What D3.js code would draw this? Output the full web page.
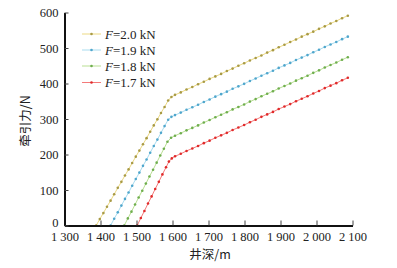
<!DOCTYPE html>
<html><head><meta charset="utf-8">
<script src="https://cdn.jsdelivr.net/npm/d3@7"></script>
<style>body{margin:0;background:#fff}svg{display:block}</style>
</head><body>
<svg id="c" width="397" height="268"></svg>
<script>
// X ticks and Y ticks
const xTicks = [1300,1400,1500,1600,1700,1800,1900,2000,2100];
const xTickLabels = ["1 300","1 400","1 500","1 600","1 700","1 800","1 900","2 000","2 100"];
const yTicks = [0,100,200,300,400,500,600];
const seriesNames = ["2.0","1.9","1.8","1.7"];

// shared depths after the knee
const postDepths = [1607,1623,1639,1655,1671,1687,1703,1719,1735,1751,1767,1783,1799,1815,1831,1847,1863,1879,1895,1911,1927,1943,1959,1975,1991,2007,2023,2039,2055,2071,2087];

// F = 2.0 kN
const depth20 = [1388,1398,1408,1418,1428,1438,1448,1458,1468,1478,1488,1498,1508,1518,1528,1538,1548,1558,1568,1578,1588,1597];
const force20 = [0,18,35,53,70,88,106,123,141,158,176,194,211,229,246,264,282,299,317,334,352,362];
const post20  = [368,375,383,390,398,405,413,420,427,435,442,450,457,465,472,479,487,494,502,509,517,524,532,539,546,554,561,569,576,584,591];
// F = 1.9 kN
const depth19 = [1428,1438,1448,1458,1468,1478,1488,1498,1508,1518,1528,1538,1548,1558,1568,1578,1588,1597];
const force19 = [0,19,37,56,75,93,112,131,149,168,186,205,224,242,261,280,298,306];
const post19  = [311,318,326,333,340,348,355,363,370,377,385,392,399,407,414,422,429,436,444,451,458,466,473,480,488,495,503,510,517,525,532];
// F = 1.8 kN
const depth18 = [1466,1476,1486,1496,1506,1516,1526,1536,1546,1556,1566,1576,1586,1596];
const force18 = [0,20,39,59,79,98,118,138,157,177,197,216,236,247];
const post18  = [253,260,268,275,282,290,297,305,312,319,327,334,341,349,356,364,371,378,386,393,400,408,415,422,430,437,445,452,459,467,474];
// F = 1.7 kN
const depth17 = [1502,1512,1522,1532,1542,1552,1562,1572,1582,1590,1598];
const force17 = [0,21,41,62,82,103,123,144,164,180,189];
const post17  = [195,202,210,217,224,232,239,247,254,261,269,276,283,291,298,306,313,320,328,335,342,350,357,364,372,379,387,394,401,409,416];

const lineColors = ["#ecd983","#a9dcef","#b9df93","#f47a7a"];
const dotColors  = ["#a89a45","#4fa6cc","#6fae4e","#e02a2a"];

const series = [
  [depth20.concat(postDepths), force20.concat(post20)],
  [depth19.concat(postDepths), force19.concat(post19)],
  [depth18.concat(postDepths), force18.concat(post18)],
  [depth17.concat(postDepths), force17.concat(post17)]
].map(([d,f]) => d.map((x,i)=>({x, y:f[i]})));

const svg = d3.select("#c");
const x = d3.scaleLinear().domain([1300,2100]).range([64.5,352.5]);
const y = d3.scaleLinear().domain([0,600]).range([225.5,12.5]);
const serif = '"Liberation Serif", "Times New Roman", serif';
const cjk = '"Noto Sans CJK SC", sans-serif';

// data
const line = d3.line().x(d=>x(d.x)).y(d=>y(d.y));
series.forEach((s,i)=>{
  svg.append("path").datum(s).attr("d",line).attr("fill","none")
    .attr("stroke",lineColors[i]).attr("stroke-width",1);
  svg.append("g").selectAll("circle").data(s).join("circle")
    .attr("cx",d=>x(d.x)).attr("cy",d=>y(d.y)).attr("r",1.3).attr("fill",dotColors[i]);
});

// axes
const xAxis = d3.axisBottom(x).tickValues(xTicks).tickFormat((d,i)=>xTickLabels[i]).tickSizeInner(-5).tickSizeOuter(0).tickPadding(7);
const gx = svg.append("g").attr("transform","translate(0,225.5)").call(xAxis);
gx.select(".domain").attr("stroke","#111").attr("stroke-width",2);
gx.selectAll(".tick line").attr("stroke","#444").attr("stroke-width",1);
gx.selectAll("text").style("font-family",serif).style("font-size","12.5px").attr("fill","#222");

const yAxis = d3.axisLeft(y).tickValues(yTicks).tickSizeInner(-4).tickSizeOuter(0).tickPadding(6);
const gy = svg.append("g").attr("transform","translate(64.5,0)").call(yAxis);
gy.select(".domain").attr("stroke","#111").attr("stroke-width",2);
gy.selectAll(".tick line").attr("stroke","#444").attr("stroke-width",1);
gy.selectAll("text").style("font-family",serif).style("font-size","12.5px").attr("fill","#222");
gy.selectAll(".tick").filter(d=>d===0).select("text").attr("dy","0.1em");

// axis titles
svg.append("text").attr("x",210).attr("y",259).attr("text-anchor","middle")
  .style("font-family",cjk).style("font-size","12.5px").attr("fill","#222").text("井深/m");
svg.append("text").attr("transform","translate(30,121) rotate(-90)").attr("text-anchor","middle")
  .style("font-family",cjk).style("font-size","12.5px").attr("fill","#222").text("牵引力/N");

// legend
const ly = [34,50,66,82.5];
seriesNames.forEach((n,i)=>{
  const g = svg.append("g");
  g.append("line").attr("x1",82).attr("x2",101).attr("y1",ly[i]).attr("y2",ly[i])
    .attr("stroke",lineColors[i]).attr("stroke-width",1);
  g.append("circle").attr("cx",91.5).attr("cy",ly[i]).attr("r",1.3).attr("fill",dotColors[i]);
  const t = g.append("text").attr("x",105).attr("y",ly[i]+4.5)
    .style("font-family",serif).style("font-size","13px").attr("fill","#222");
  t.append("tspan").style("font-style","italic").text("F");
  t.append("tspan").text("=" + n + " kN");
});
</script>
</body></html>
